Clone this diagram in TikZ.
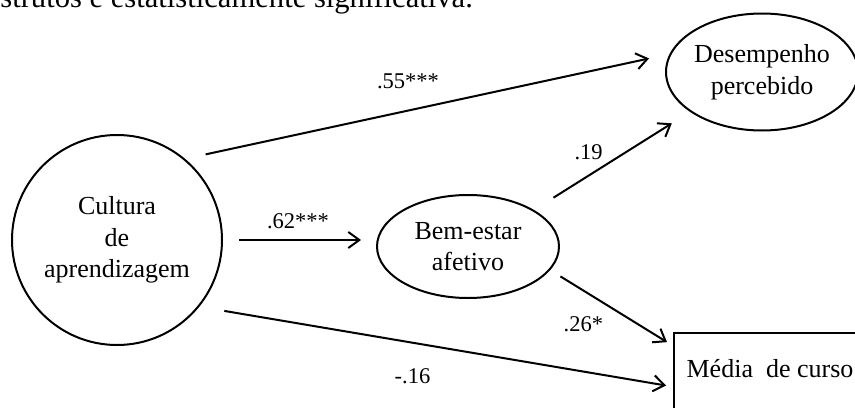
\documentclass[tikz,border=0pt]{standalone}
\usepackage{fontspec}
\setmainfont{Liberation Serif}
\usetikzlibrary{arrows.meta,shapes.geometric,positioning}

\begin{document}
\begin{tikzpicture}[x=0.5pt, y=-0.5pt,
    lat/.style={draw, line width=1pt, align=center, inner sep=0pt, font=\fontsize{13}{15.75}\selectfont},
    obs/.style={draw, line width=1pt, align=center, font=\fontsize{13}{15.75}\selectfont},
    arr/.style={-{Straight Barb[length=5.5pt, width=8pt]}, line width=1pt},
    lbl/.style={font=\fontsize{11.25}{13}\selectfont, inner sep=1pt}
]
\useasboundingbox (0,0) rectangle (855,407);
\node[anchor=base west, inner sep=0pt, font=\fontsize{15.3}{18}\selectfont] (nota) at (0,7) {strutos e estatisticamente significativa.};

\node[lat, circle, minimum size=105pt] (cultura) at (117,240) {Cultura\\de\\aprendizagem};
\node[lat, ellipse, minimum width=91pt, minimum height=51.5pt] (bemestar) at (468,246.5) {Bem-estar\\afetivo};
\node[lat, ellipse, minimum width=95pt, minimum height=58.5pt] (desemp) at (762,72) {Desempenho\\percebido};
\node[obs, anchor=north west, minimum width=96pt, inner ysep=0pt, text height=22pt, text depth=30pt] (media) at (673,332) {Média\ \ de curso};

\draw[arr, shorten <=10.5pt, shorten >=10.5pt] (cultura.50) -- node[lbl, pos=.46, yshift=14.5pt] {.55***} (desemp.169);
\draw[arr, shorten <=8pt, shorten >=7.5pt] (cultura.east) -- node[lbl, pos=.49, yshift=9.5pt] {.62***} (cultura.east -| bemestar.west);
\draw[arr, shorten <=11.5pt, shorten >=10.75pt] (bemestar.29.5) -- node[lbl, pos=.35, yshift=11.5pt] {.19} (desemp.209.7);
\draw[arr, shorten <=6pt, shorten >=3.5pt] (bemestar.-16.7) -- node[lbl, pos=.27, yshift=-17pt] {.26*} (media.158.8);
\draw[arr, shorten <=12.65pt, shorten >=3.5pt] (cultura.-39.5) -- node[lbl, pos=.45, yshift=-16.7pt] {-.16} (media.181.3);
\end{tikzpicture}
\end{document}
